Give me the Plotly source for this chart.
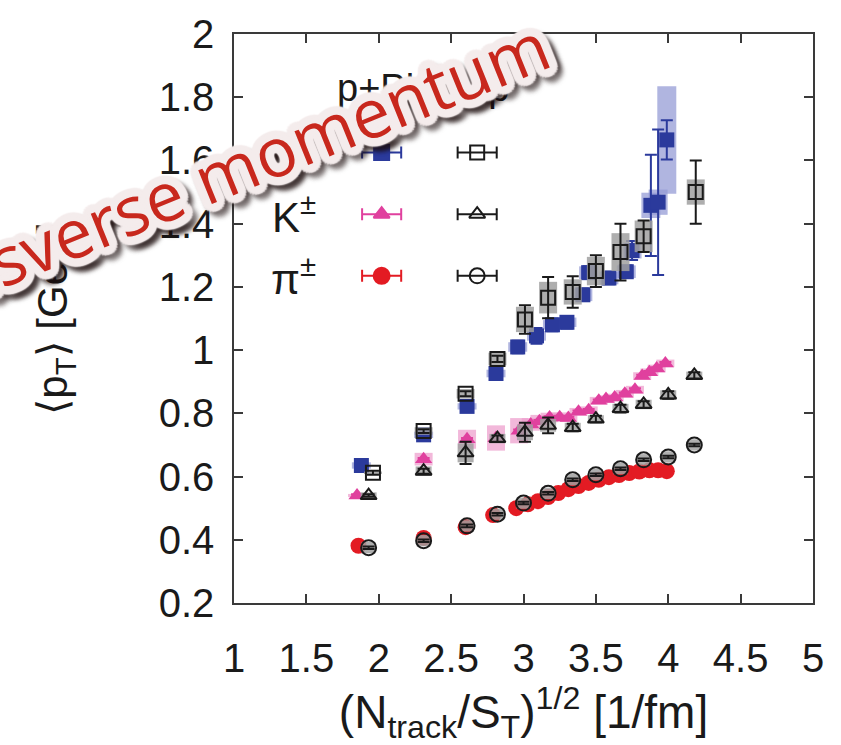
import math
import plotly.graph_objects as go

# ---------------------------------------------------------------- data
# Mean transverse momentum <pT> [GeV] vs (N_track/S_T)^(1/2) [1/fm]

# protons, p+Pb
PPB_P_X = [1.88, 2.31, 2.61, 2.81, 2.96, 3.09, 3.20, 3.30, 3.41, 3.45, 3.59, 3.71, 3.75, 3.88, 3.93, 3.99]
PPB_P_Y = [0.635, 0.732, 0.822, 0.926, 1.010, 1.045, 1.080, 1.088, 1.175, 1.245, 1.228, 1.248, 1.315, 1.458, 1.468, 1.665]
PPB_P_STAT = [0.005, 0.005, 0.006, 0.010, 0.020, 0.025, 0.020, 0.020, 0.020, 0.020, 0.020, 0.020, 0.030, 0.160, 0.230, 0.062]
PPB_P_SYS = [0.010, 0.010, 0.010, 0.012, 0.015, 0.015, 0.015, 0.015, 0.020, 0.020, 0.020, 0.020, 0.025, 0.040, 0.040, 0.170]

# protons, p+p
PP_P_X = [1.96, 2.31, 2.60, 2.82, 3.01, 3.17, 3.34, 3.50, 3.67, 3.83, 4.19]
PP_P_Y = [0.612, 0.744, 0.862, 0.972, 1.097, 1.166, 1.184, 1.250, 1.310, 1.360, 1.500]
PP_P_STAT = [0.006, 0.006, 0.008, 0.010, 0.045, 0.065, 0.050, 0.050, 0.090, 0.050, 0.100]
PP_P_SYS = [0.004, 0.012, 0.015, 0.020, 0.040, 0.050, 0.040, 0.045, 0.060, 0.050, 0.040]

# kaons, p+Pb
PPB_K_X = [1.85, 2.31, 2.61, 2.81, 2.97, 3.05, 3.11, 3.18, 3.25, 3.31, 3.38, 3.45, 3.52,
           3.57, 3.63, 3.70, 3.77, 3.82, 3.87, 3.92, 3.98]
PPB_K_Y = [0.540, 0.655, 0.718, 0.722, 0.745, 0.765, 0.775, 0.787, 0.788, 0.785, 0.805, 0.810, 0.840,
           0.845, 0.850, 0.862, 0.875, 0.918, 0.930, 0.942, 0.958]
PPB_K_STAT = [0.004] * len(PPB_K_X)
PPB_K_SYS = [0.005, 0.020, 0.030, 0.040, 0.040, 0.020, 0.020, 0.015, 0.015, 0.012, 0.012, 0.012, 0.012,
             0.012, 0.012, 0.012, 0.012, 0.012, 0.012, 0.012, 0.012]

# kaons, p+p
PP_K_X = [1.93, 2.31, 2.60, 2.82, 3.01, 3.17, 3.34, 3.50, 3.67, 3.83, 4.00, 4.18]
PP_K_Y = [0.540, 0.617, 0.675, 0.720, 0.740, 0.762, 0.755, 0.782, 0.815, 0.828, 0.858, 0.920]
PP_K_STAT = [0.004, 0.008, 0.035, 0.010, 0.030, 0.025, 0.012, 0.010, 0.012, 0.010, 0.012, 0.010]
PP_K_SYS = [0.010, 0.015, 0.030, 0.015, 0.025, 0.020, 0.015, 0.012, 0.015, 0.015, 0.015, 0.012]

# pions, p+Pb
PPB_PI_X = [1.86, 2.31, 2.60, 2.79, 2.95, 3.03, 3.10, 3.17, 3.24, 3.31, 3.38, 3.45, 3.52, 3.59,
            3.66, 3.73, 3.80, 3.87, 3.93, 3.99]
PPB_PI_Y = [0.381, 0.406, 0.440, 0.478, 0.500, 0.512, 0.522, 0.535, 0.548, 0.560, 0.570, 0.580, 0.590, 0.598,
            0.605, 0.611, 0.616, 0.620, 0.620, 0.617]
PPB_PI_STAT = [0.003] * len(PPB_PI_X)
PPB_PI_SYS = [0.006] * len(PPB_PI_X)

# pions, p+p
PP_PI_X = [1.93, 2.31, 2.61, 2.82, 3.00, 3.17, 3.34, 3.50, 3.67, 3.83, 4.00, 4.18]
PP_PI_Y = [0.375, 0.397, 0.444, 0.481, 0.516, 0.547, 0.590, 0.606, 0.625, 0.653, 0.662, 0.700]
PP_PI_STAT = [0.004] * len(PP_PI_X)
PP_PI_SYS = [0.018] * len(PP_PI_X)

# axes
X_TICKS = [1, 1.5, 2, 2.5, 3, 3.5, 4, 4.5, 5]
X_TICK_TEXT = ["1", "1.5", "2", "2.5", "3", "3.5", "4", "4.5", "5"]
Y_TICKS = [0.2, 0.4, 0.6, 0.8, 1.0, 1.2, 1.4, 1.6, 1.8, 2.0]
Y_TICK_TEXT = ["0.2", "0.4", "0.6", "0.8", "1", "1.2", "1.4", "1.6", "1.8", "2"]

# legend layout: column headers, row labels, key positions (data units)
LEGEND_COLUMNS = ["p+Pb", "p+p"]
LEGEND_COLUMN_X = [2.02, 2.68]
LEGEND_ROW_LABELS = ["p", "K<sup>±</sup>", "π<sup>±</sup>"]
LEGEND_ROW_Y = [1.625, 1.430, 1.235]
LEGEND_HEADER_Y = 1.83
LEGEND_HALF_WIDTH = 0.135

BANNER_TEXT = "Transverse momentum"

# ---------------------------------------------------------------- styles
FONT = "Liberation Sans, Arial, Helvetica, sans-serif"
TEXT = "#1a1a1a"
BLUE = "#2b3a9c"
BLUE_SYS = "rgba(150,156,214,0.75)"
PINK = "#e0409e"
PINK_SYS = "rgba(238,160,205,0.75)"
RED = "#e31b23"
BLACK = "#1a1a1a"
GRAY_SYS = "rgba(160,160,160,0.85)"

fig = go.Figure()


def sys_boxes(x, y, sys, color, width_px):
    fig.add_trace(go.Scatter(
        x=x, y=y, mode="markers",
        marker=dict(size=1, color="rgba(0,0,0,0)"),
        error_y=dict(type="data", array=sys, visible=True, color=color,
                     thickness=width_px, width=0),
        showlegend=False, hoverinfo="skip"))


def points(x, y, stat, symbol, size, color, err_color, line_w=0):
    fig.add_trace(go.Scatter(
        x=x, y=y, mode="markers",
        marker=dict(symbol=symbol, size=size, color=color,
                    line=dict(color=color, width=line_w)),
        error_y=dict(type="data", array=stat, visible=True, color=err_color,
                     thickness=2, width=6),
        showlegend=False))


# p+Pb: systematic boxes then markers
sys_boxes(PPB_P_X, PPB_P_Y, PPB_P_SYS, BLUE_SYS, 19)
sys_boxes(PPB_K_X, PPB_K_Y, PPB_K_SYS, PINK_SYS, 18)
points(PPB_P_X, PPB_P_Y, PPB_P_STAT, "square", 15, BLUE, BLUE)
points(PPB_K_X, PPB_K_Y, PPB_K_STAT, "triangle-up", 15, PINK, PINK)
points(PPB_PI_X, PPB_PI_Y, PPB_PI_STAT, "circle", 16, RED, RED)

# p+p: grey systematic boxes then open markers
sys_boxes(PP_P_X, PP_P_Y, PP_P_SYS, GRAY_SYS, 18)
sys_boxes(PP_K_X, PP_K_Y, PP_K_SYS, GRAY_SYS, 16)
sys_boxes(PP_PI_X, PP_PI_Y, PP_PI_SYS, GRAY_SYS, 14)
points(PP_P_X, PP_P_Y, PP_P_STAT, "square-open", 14, BLACK, BLACK, 2)
points(PP_K_X, PP_K_Y, PP_K_STAT, "triangle-up-open", 14, BLACK, BLACK, 2)
points(PP_PI_X, PP_PI_Y, PP_PI_STAT, "circle-open", 15, BLACK, BLACK, 2)

# legend keys
KEY_STYLES = [
    [("square", 15, BLUE), ("square-open", 14, BLACK)],
    [("triangle-up", 14, PINK), ("triangle-up-open", 14, BLACK)],
    [("circle", 16, RED), ("circle-open", 15, BLACK)],
]
for row_y, row in zip(LEGEND_ROW_Y, KEY_STYLES):
    for col_x, (sym, sz, col) in zip(LEGEND_COLUMN_X, row):
        fig.add_trace(go.Scatter(
            x=[col_x], y=[row_y], mode="markers",
            marker=dict(symbol=sym, size=sz, color=col, line=dict(color=col, width=2)),
            error_x=dict(type="constant", value=LEGEND_HALF_WIDTH, color=col,
                         thickness=2, width=6),
            showlegend=False))

annotations = []
for label, col_x in zip(LEGEND_COLUMNS, LEGEND_COLUMN_X):
    annotations.append(dict(x=col_x, y=LEGEND_HEADER_Y, xref="x", yref="y", text=label,
                            showarrow=False, font=dict(family=FONT, size=38, color=TEXT)))
for label, row_y in zip(LEGEND_ROW_LABELS, LEGEND_ROW_Y):
    annotations.append(dict(x=1.58, y=row_y, xref="x", yref="y", text=label,
                            xanchor="right", showarrow=False,
                            font=dict(family=FONT, size=42, color=TEXT)))

# banner: red lettering, light halo, soft drop shadow
halo = []
for k in range(20):
    a = 2 * math.pi * k / 20
    halo.append(f"{8.5 * math.cos(a):.1f}px {8.5 * math.sin(a):.1f}px 1.5px #f4ecec")
shade = []
for k in range(12):
    a = 2 * math.pi * k / 12
    shade.append(f"{8 * math.cos(a) + 3:.1f}px {8 * math.sin(a) + 7:.1f}px 5px rgba(30,15,15,0.55)")
annotations.append(dict(
    x=-0.0553, y=0.7437, xref="paper", yref="paper", text=BANNER_TEXT, textangle=-22,
    showarrow=False, xanchor="center", yanchor="middle",
    font=dict(family="Open Sans, sans-serif", size=68, color="#c8281d",
              shadow=", ".join(halo + shade))))

axis_common = dict(
    showgrid=False, zeroline=False, showline=True, linecolor="#3a3a3a", linewidth=1.5,
    mirror="ticks", ticks="inside", ticklen=9, tickwidth=1.5, tickcolor="#3a3a3a",
    tickfont=dict(family=FONT, size=40, color=TEXT),
)

fig.update_layout(
    width=841, height=745,
    margin=dict(l=234, r=28, t=27, b=142),
    paper_bgcolor="white", plot_bgcolor="white",
    showlegend=False,
    xaxis=dict(range=[1, 5], tickvals=X_TICKS, ticktext=X_TICK_TEXT, ticklabelstandoff=19,
               title=dict(text="(N<sub>track</sub>/S<sub>T</sub>)<sup>1/2</sup> [1/fm]",
                          font=dict(family=FONT, size=46, color=TEXT), standoff=2),
               **axis_common),
    yaxis=dict(range=[0.2, 2], tickvals=Y_TICKS, ticktext=Y_TICK_TEXT, ticklabelstandoff=10,
               title=dict(text="⟨p<sub>T</sub>⟩ [GeV]",
                          font=dict(family=FONT, size=42, color=TEXT), standoff=78),
               **axis_common),
    annotations=annotations,
)

fig.write_html("out.html")
